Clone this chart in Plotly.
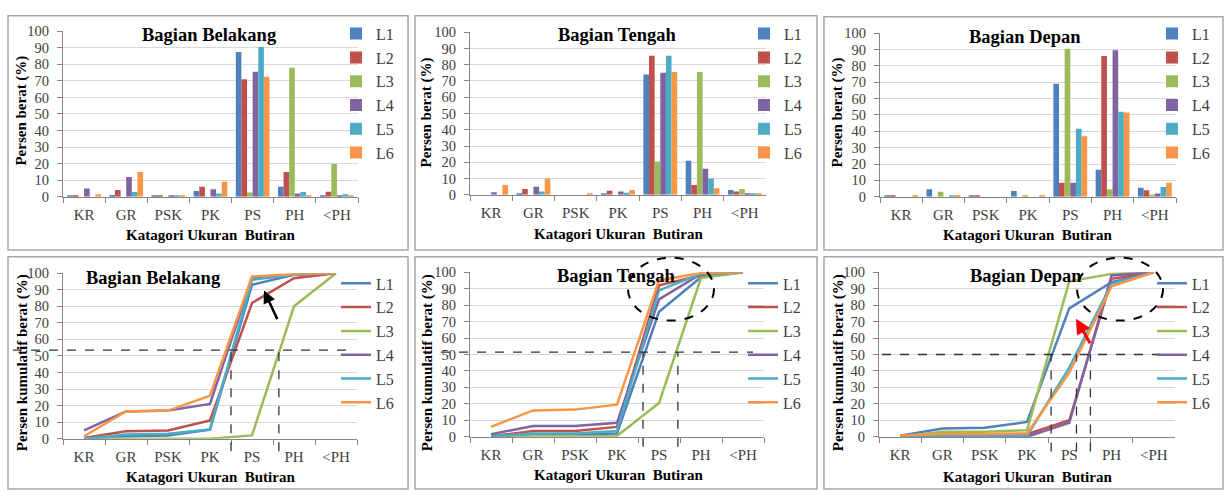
import plotly.graph_objects as go

W, H = 1225, 498

categories = ["KR", "GR", "PSK", "PK", "PS", "PH", "<PH"]
series_names = ["L1", "L2", "L3", "L4", "L5", "L6"]
series_colors = ["#4F81BD", "#C0504D", "#9BBB59", "#8064A2", "#4BACC6", "#F79646"]
panel_titles = ["Bagian Belakang", "Bagian Tengah", "Bagian Depan"]
x_title = "Katagori Ukuran  Butiran"
y_title_bar = "Persen berat (%)"
y_title_cum = "Persen kumulatif berat (%)"

# Percent by weight (bar charts), rows = L1..L6
bar_belakang = [
    [0.5, 1, 0.7, 3.5, 87.5, 6, 0.8],
    [0.5, 4, 0.5, 6, 71, 15, 3],
    [0, 0, 0, 0, 2.5, 78, 20],
    [5, 12, 0.5, 4.5, 75.5, 2, 0.8],
    [0, 2.8, 0.7, 2, 90.5, 2.8, 1.5],
    [1.5, 15, 0.7, 9, 72.5, 0.8, 0.8],
]
bar_tengah = [
    [0, 1, 0, 0.5, 74, 21, 3],
    [0, 3.5, 0, 2.5, 85.5, 6, 2],
    [0, 0, 0, 0, 20.5, 75.5, 3.5],
    [1.5, 5, 0, 2, 75, 16, 0.8],
    [0, 2, 0, 1.2, 85.5, 10, 0.7],
    [6, 10, 0.5, 3, 75.5, 4, 0.5],
]
bar_depan = [
    [0.7, 4.5, 0.5, 3.5, 69, 16.5, 5.5],
    [0.7, 0, 0.5, 0, 8.5, 86, 4],
    [0, 3, 0, 0.7, 90.5, 4.5, 1.3],
    [0, 0, 0, 0, 8.5, 89.5, 2],
    [0, 0.5, 0, 0, 41.5, 52, 6],
    [0.7, 1, 0, 0.5, 37, 51.5, 8.5],
]

# Cumulative percent by weight (line charts), rows = L1..L6
cum_belakang = [
    [0.5, 1.5, 2, 5.5, 93, 99, 100],
    [0.5, 4.5, 5, 11, 82, 97, 100],
    [0, 0, 0, 0, 2, 80, 100],
    [5, 16.5, 17, 21, 97, 99, 100],
    [0, 2.5, 3, 5.5, 96, 99, 100],
    [1.5, 16.5, 17, 26, 98, 99.5, 100],
]
cum_tengah = [
    [0.3, 1.5, 1.5, 2, 76, 97, 100],
    [0.3, 3.5, 3.5, 6, 92, 98, 100],
    [0, 0.3, 0.3, 0.5, 20.5, 96.5, 100],
    [1.5, 6.5, 6.5, 8.5, 83.5, 99, 100],
    [0.3, 2, 2, 3.5, 89, 99, 100],
    [6, 16, 16.5, 19.5, 95, 99.5, 100],
]
cum_depan = [
    [0.7, 5, 5.5, 9, 78, 94, 100],
    [0.7, 1, 1.5, 1.5, 10, 96, 100],
    [0, 3, 3, 4, 94.5, 99, 100],
    [0, 0, 0, 0, 8.5, 98, 100],
    [0, 0.5, 0.5, 0.5, 42, 93, 100],
    [0.7, 1.7, 1.7, 2, 39, 91.5, 100],
]

# Reference lines (D50) on the cumulative charts
hline_levels = [53.5, 51.5, 50]
vline_positions = [[3.5, 4.64], [3.62, 4.45], [3.57, 4.17, 4.5]]

FONT = '"Liberation Serif", "Times New Roman", Times, serif'


def px(x):
    return x / W


def py(y):
    return 1 - y / H


# Layout geometry (pixels)
plot_boxes = [  # x0, x1, ytop, ybottom
    (63, 358, 24, 195), (470, 766, 25, 193), (880, 1176, 26, 195),
    (63, 357, 274, 445), (470, 764, 273, 443), (879, 1175, 273, 443),
]
panel_frames = [
    (8, 408, 8, 250), (415, 817, 8, 250), (824, 1223, 9, 250),
    (8, 408, 257, 497), (415, 817, 257, 497), (824, 1223, 257, 497),
]
legend_pos = [(336, 9), (744, 9), (1152, 9), (336, 267), (743, 267), (1152, 267)]
title_pos = [(209, 28), (617, 28), (1025, 30), (153, 279), (616, 277), (1026, 277)]
ytitle_pos = [(22, 106), (427, 108), (838, 108), (22, 367), (427, 367), (838, 367)]
xtitle_pos = [(210, 235), (618, 233), (1027, 235), (210, 485), (618, 483), (1027, 485)]
hline_extent = [(13, 350), (423, 753), (882, 1167)]
vline_bottom = [-0.076, -0.06, -0.09]

fig = go.Figure()

bar_data = [bar_belakang, bar_tengah, bar_depan]
cum_data = [cum_belakang, cum_tengah, cum_depan]

for p in range(6):
    ax = "" if p == 0 else str(p + 1)
    lg = "legend" if p == 0 else "legend" + str(p + 1)
    data = bar_data[p] if p < 3 else cum_data[p - 3]
    for i, name in enumerate(series_names):
        if p < 3:
            fig.add_trace(go.Bar(
                x=categories, y=data[i], name=name,
                marker=dict(color=series_colors[i], line=dict(width=0)),
                xaxis="x" + ax, yaxis="y" + ax, legend=lg,
            ))
        else:
            fig.add_trace(go.Scatter(
                x=categories, y=data[i], name=name, mode="lines",
                line=dict(color=series_colors[i], width=2.5),
                xaxis="x" + ax, yaxis="y" + ax, legend=lg,
            ))

layout = dict(
    width=W, height=H,
    margin=dict(l=0, r=0, t=0, b=0),
    paper_bgcolor="white", plot_bgcolor="white",
    font=dict(family=FONT, color="#404040"),
    barmode="group", bargap=0.2, bargroupgap=0,
    showlegend=True,
)

shapes = []
annotations = []

for p in range(6):
    ax = "" if p == 0 else str(p + 1)
    x0, x1, yt, yb = plot_boxes[p]
    layout["xaxis" + ax] = dict(
        domain=[px(x0), px(x1)], anchor="y" + ax,
        type="category", categoryorder="array", categoryarray=categories,
        range=[-0.5, 6.5], showline=True, linecolor="#868686", linewidth=1,
        ticks="outside", tickson="boundaries", ticklen=5, tickcolor="#868686",
        showgrid=False, tickfont=dict(family=FONT, size=15, color="#404040"),
        ticklabelstandoff=4, fixedrange=True,
    )
    layout["yaxis" + ax] = dict(
        domain=[py(yb), py(yt)], anchor="x" + ax,
        range=[0, 100], dtick=10, showline=True, linecolor="#868686", linewidth=1,
        ticks="outside", ticklen=5, tickcolor="#868686",
        showgrid=True, gridcolor="#D9D9D9", gridwidth=1, zeroline=False,
        tickfont=dict(family=FONT, size=14.5, color="#404040"),
        ticklabelstandoff=5, fixedrange=True,
    )
    lgkey = "legend" if p == 0 else "legend" + str(p + 1)
    lx, ly = legend_pos[p]
    layout[lgkey] = dict(
        x=px(lx), y=py(ly), xanchor="left", yanchor="top",
        bgcolor="rgba(0,0,0,0)", borderwidth=0,
        font=dict(family=FONT, size=16, color="#404040"),
        itemwidth=30, tracegroupgap=0,
    )
    # panel frame
    fx0, fx1, fy0, fy1 = panel_frames[p]
    shapes.append(dict(type="rect", xref="paper", yref="paper",
                       x0=px(fx0), x1=px(fx1), y0=py(fy1), y1=py(fy0),
                       line=dict(color="#A6A6A6", width=1.5), layer="below"))
    tx, ty = title_pos[p]
    annotations.append(dict(text="<b>" + panel_titles[p % 3] + "</b>",
                            x=px(tx), y=py(ty), xref="paper", yref="paper",
                            xanchor="center", yanchor="middle",
                            showarrow=False, font=dict(family=FONT, size=18.5, color="black")))
    yx, yy = ytitle_pos[p]
    annotations.append(dict(text="<b>" + (y_title_bar if p < 3 else y_title_cum) + "</b>",
                            x=px(yx), y=py(yy), xref="paper", yref="paper", textangle=-90,
                            xanchor="center", yanchor="middle",
                            showarrow=False, font=dict(family=FONT, size=15, color="black")))
    xx, xy = xtitle_pos[p]
    annotations.append(dict(text="<b>" + x_title + "</b>",
                            x=px(xx), y=py(xy), xref="paper", yref="paper",
                            xanchor="center", yanchor="middle",
                            showarrow=False, font=dict(family=FONT, size=15, color="black")))

# dashed reference lines on the cumulative charts
for k in range(3):
    ax = str(k + 4)
    hx0, hx1 = hline_extent[k]
    shapes.append(dict(type="line", xref="paper", yref="y" + ax,
                       x0=px(hx0), x1=px(hx1), y0=hline_levels[k], y1=hline_levels[k],
                       line=dict(color="#333333", width=1.3, dash="dash")))
    for v in vline_positions[k]:
        shapes.append(dict(type="line", xref="x" + ax, yref="y" + ax + " domain",
                           x0=v, x1=v, y0=vline_bottom[k], y1=hline_levels[k] / 100,
                           line=dict(color="#333333", width=1.3, dash="dash")))

# dashed ellipses
shapes.append(dict(type="circle", xref="paper", yref="paper",
                   x0=px(628), x1=px(714), y0=py(323), y1=py(258),
                   line=dict(color="black", width=2, dash="dash")))
shapes.append(dict(type="circle", xref="paper", yref="paper",
                   x0=px(1077), x1=px(1163), y0=py(323), y1=py(258),
                   line=dict(color="black", width=2, dash="dash")))

# arrows
annotations.append(dict(text="", x=px(264), y=py(292), xref="paper", yref="paper",
                        showarrow=True, ax=14, ay=30, arrowhead=2, arrowsize=1,
                        arrowwidth=2.5, arrowcolor="black"))
annotations.append(dict(text="", x=px(1076), y=py(321), xref="paper", yref="paper",
                        showarrow=True, ax=15, ay=26, arrowhead=2, arrowsize=1,
                        arrowwidth=3, arrowcolor="red"))

layout["shapes"] = shapes
layout["annotations"] = annotations
fig.update_layout(**layout)

fig.write_html(
    "out.html",
    config={"displayModeBar": False},
    post_script="document.body.style.margin='0';document.body.style.overflow='hidden';",
)
